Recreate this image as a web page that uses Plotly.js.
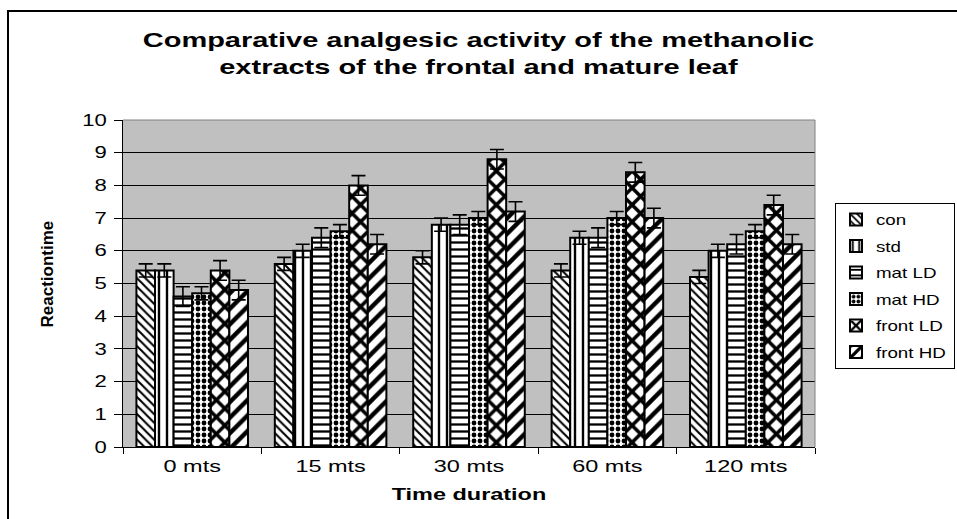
<!DOCTYPE html>
<html><head><meta charset="utf-8">
<script src="https://cdn.plot.ly/plotly-3.0.1.min.js"></script>
<style>body{margin:0;background:#fff;overflow:hidden}</style>
</head><body><div id="chart" style="width:957px;height:519px"></div>
<script>
// ---- data ----
const categories = ['0 mts', '15 mts', '30 mts', '60 mts', '120 mts'];
const seriesNames = ['con', 'std', 'mat LD', 'mat HD', 'front LD', 'front HD'];
const conVals     = [5.4, 5.6, 5.8, 5.4, 5.2];
const stdVals     = [5.4, 6.0, 6.8, 6.4, 6.0];
const matLDVals   = [4.6, 6.4, 6.8, 6.4, 6.2];
const matHDVals   = [4.7, 6.6, 7.0, 7.0, 6.6];
const frontLDVals = [5.4, 8.0, 8.8, 8.4, 7.4];
const frontHDVals = [4.8, 6.2, 7.2, 7.0, 6.2];
const conErr      = [0.2, 0.2, 0.2, 0.2, 0.2];
const stdErr      = [0.2, 0.2, 0.2, 0.2, 0.2];
const matLDErr    = [0.3, 0.3, 0.3, 0.3, 0.3];
const matHDErr    = [0.2, 0.2, 0.2, 0.2, 0.2];
const frontLDErr  = [0.3, 0.3, 0.3, 0.3, 0.3];
const frontHDErr  = [0.3, 0.3, 0.3, 0.3, 0.3];
const yTicks = [0, 1, 2, 3, 4, 5, 6, 7, 8, 9, 10];

// ---- styles ----
const values = [conVals, stdVals, matLDVals, matHDVals, frontLDVals, frontHDVals];
const errors = [conErr, stdErr, matLDErr, matHDErr, frontLDErr, frontHDErr];
const patterns = [
  {shape: '\\', size: 6, solidity: 0.35},
  {shape: '|', size: 8, solidity: 0.3},
  {shape: '-', size: 7, solidity: 0.33},
  {shape: '.', size: 6, solidity: 0.5},
  {shape: 'x', size: 12, solidity: 0.5},
  {shape: '/', size: 11, solidity: 0.4}
];
const FONT = 'Liberation Sans, Arial, sans-serif';

const traces = seriesNames.map((name, i) => ({
  type: 'bar',
  name: name,
  legendgroup: 'g' + i,
  x: categories,
  y: values[i],
  marker: {
    color: '#ffffff',
    line: {color: '#000000', width: 2},
    pattern: Object.assign({fgcolor: '#000000', bgcolor: '#ffffff', fillmode: 'replace'}, patterns[i])
  },
  error_y: {type: 'data', array: errors[i], visible: true, color: '#000000', thickness: 1.6, width: 7}
}));

// plot area pixel geometry
const L = 123, R = 142, T = 120, B = 72, W = 957, H = 519;
const pw = W - L - R, ph = H - T - B;
const px = v => (v - L) / pw;
const py = v => (H - B - v) / ph;

const layout = {
  width: W, height: H,
  margin: {l: L, r: R, t: T, b: B, pad: 0},
  paper_bgcolor: '#ffffff',
  plot_bgcolor: '#c0c0c0',
  font: {family: FONT, color: '#000000'},
  barmode: 'group',
  bargap: 0.194,
  bargroupgap: 0,
  title: {
    text: 'Comparative analgesic activity of the methanolic<br>extracts of the frontal and mature leaf',
    font: {family: FONT, size: 21, weight: 'bold', color: '#000000'},
    x: 0.5, xanchor: 'center', xref: 'container',
    y: 1 - 47 / H, yanchor: 'top', yref: 'container'
  },
  xaxis: {
    type: 'category',
    tickson: 'boundaries',
    ticks: 'outside', ticklen: 6, tickwidth: 1, tickcolor: '#000000',
    ticklabelstandoff: 4,
    showline: true, linecolor: '#000000', linewidth: 1,
    showgrid: false, zeroline: false,
    tickfont: {family: FONT, size: 17, color: '#000000'},
    title: {text: 'Time duration', font: {family: FONT, size: 17, weight: 'bold', color: '#000000'}, standoff: 12}
  },
  yaxis: {
    range: [0, 10],
    tickvals: yTicks,
    ticks: 'outside', ticklen: 8, tickwidth: 1, tickcolor: '#000000',
    ticklabelstandoff: 4,
    showline: true, linecolor: '#000000', linewidth: 1,
    showgrid: true, gridcolor: '#000000', gridwidth: 1,
    zeroline: false,
    tickfont: {family: FONT, size: 16, color: '#000000'}
  },
  legend: {
    x: px(835), y: py(203), xanchor: 'left', yanchor: 'top',
    bgcolor: '#ffffff', bordercolor: '#000000', borderwidth: 1,
    font: {family: FONT, size: 14, color: '#000000'},
    traceorder: 'grouped', tracegroupgap: 5.3
  },
  annotations: [{
    text: 'Reactiontime', showarrow: false, textangle: -90,
    xref: 'paper', yref: 'paper', x: px(46.5), y: py(274),
    xanchor: 'center', yanchor: 'middle',
    font: {family: FONT, size: 17, weight: 'bold', color: '#000000'}
  }],
  shapes: [
    {type: 'line', xref: 'paper', yref: 'paper', x0: 0, x1: 1, y0: 1, y1: 1, line: {color: '#808080', width: 1}},
    {type: 'line', xref: 'paper', yref: 'paper', x0: 1, x1: 1, y0: 0, y1: 1, line: {color: '#808080', width: 1}},
    {type: 'path', xref: 'paper', yref: 'paper',
     path: `M ${px(8)} ${py(530)} L ${px(8)} ${py(11)} L ${px(970)} ${py(11)}`,
     line: {color: '#000000', width: 2}}
  ]
};

// horizontal widening of the text to match the reference's wide lettering
function stretch(selector, sx, mode) {
  document.querySelectorAll(selector).forEach(el => {
    if (el.getAttribute('data-st')) return;
    const bb = el.getBBox();
    const cx = mode === 'start' ? bb.x : mode === 'end' ? bb.x + bb.width : bb.x + bb.width / 2;
    const t = el.getAttribute('transform') || '';
    el.setAttribute('transform', `${t} translate(${cx},0) scale(${sx},1) translate(${-cx},0)`);
    el.setAttribute('data-st', '1');
  });
}

Plotly.newPlot('chart', traces, layout, {displayModeBar: false, staticPlot: true}).then(() => {
  stretch('.gtitle', 1.38, 'middle');
  stretch('.xtick text', 1.38, 'middle');
  stretch('.xtitle', 1.38, 'middle');
  stretch('.ytick text', 1.38, 'end');
  stretch('.legendtext', 1.34, 'start');
  // widen the legend box to hold the widened text
  document.querySelectorAll('.legend').forEach(lg => {
    const bg = lg.querySelector('rect.bg');
    if (bg) bg.setAttribute('width', 119);
    lg.querySelectorAll('[clip-path]').forEach(n => n.removeAttribute('clip-path'));
  });
});
</script>
</body></html>
